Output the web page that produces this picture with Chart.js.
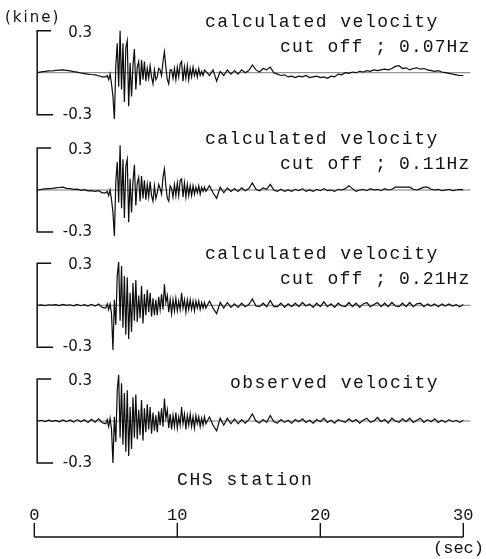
<!DOCTYPE html>
<html>
<head>
<meta charset="utf-8">
<script src="https://cdn.jsdelivr.net/npm/chart.js@4.4.1/dist/chart.umd.min.js"></script>
<style>
  html, body { margin: 0; background: #fff; }
  canvas { display: block; }
</style>
</head>
<body>
<canvas id="myChart" width="486" height="559"></canvas>
<script>
// time (sec) - coarse before the onset, 0.1 s through the strong part, coarse in the coda
const timeSec = [
  0.2, 0.5, 0.75, 1.0, 1.25, 1.5, 1.75, 2.0, 2.25, 2.5, 2.75, 3.0, 3.25, 3.5, 3.75, 4.0, 4.25, 4.5, 4.75,
  5.0, 5.1, 5.2, 5.3, 5.4, 5.5, 5.6, 5.7, 5.8, 5.9,
  6.0, 6.1, 6.2, 6.3, 6.4, 6.5, 6.6, 6.7, 6.8, 6.9,
  7.0, 7.1, 7.2, 7.3, 7.4, 7.5, 7.6, 7.7, 7.8, 7.9,
  8.0, 8.1, 8.2, 8.3, 8.4, 8.5, 8.6, 8.7, 8.8, 8.9,
  9.0, 9.1, 9.2, 9.3, 9.4, 9.5, 9.6, 9.7, 9.8, 9.9,
  10.0, 10.1, 10.2, 10.3, 10.4, 10.5, 10.6, 10.7, 10.8, 10.9,
  11.0, 11.1, 11.2, 11.3, 11.4, 11.5, 11.6, 11.7, 11.8, 11.9,
  12.0, 12.25, 12.5, 12.75, 13.0, 13.25, 13.5, 13.75,
  14.0, 14.25, 14.5, 14.75, 15.0, 15.25, 15.5, 15.75,
  16.0, 16.25, 16.5, 16.75, 17.0, 17.25, 17.5, 17.75,
  18.0, 18.25, 18.5, 18.75, 19.0, 19.25, 19.5, 19.75,
  20.0, 20.25, 20.5, 20.75, 21.0, 21.25, 21.5, 21.75,
  22.0, 22.25, 22.5, 22.75, 23.0, 23.25, 23.5, 23.75,
  24.0, 24.25, 24.5, 24.75, 25.0, 25.25, 25.5, 25.75,
  26.0, 26.25, 26.5, 26.75, 27.0, 27.25, 27.5, 27.75,
  28.0, 28.25, 28.5, 28.75, 29.0, 29.25, 29.5, 29.75,
  30.0, 30.25, 30.5
];

// velocity (kine)
const velCut007 = [
  0, 0.006, 0.009, 0.013, 0.012, 0.016, 0.018, 0.02, 0.017, 0.013, 0.008, 0.004, -0.002, -0.006, -0.01, -0.013, -0.015, -0.022, -0.03,
  -0.03, -0.02, -0.05, -0.01, -0.08, -0.17, -0.33, 0.05, 0.21, -0.10,
  0.30, -0.12, 0.21, -0.21, 0.18, 0.23, -0.24, 0.07, -0.17, 0.05,
  0.17, -0.12, 0.04, 0.08, -0.09, 0.09, -0.05, 0.08, -0.06, 0.03,
  -0.04, 0.05, -0.03, -0.08, 0.02, -0.05, -0.03, 0.03, 0.02, -0.02,
  0.08, 0.15, 0.04, -0.05, -0.08, 0.02, 0.02, -0.04, 0.03, -0.05,
  0.04, -0.03, 0.06, 0.08, -0.06, 0.04, -0.04, 0.05, -0.05, 0.03,
  -0.03, 0.04, -0.02, 0.02, -0.03, 0.03, -0.02, 0.01, -0.02, 0.02,
  0.01, -0.02, 0.02, -0.06, 0.01, -0.02, 0.02, -0.01,
  0.015, -0.01, 0.02, 0.0, 0.015, 0.055, 0.02, 0.005,
  0.03, 0.02, 0.04, 0.0, -0.01, -0.02, -0.015, -0.03,
  -0.025, -0.035, -0.025, -0.03, -0.02, -0.035, -0.03, -0.025,
  -0.035, -0.03, -0.04, -0.025, -0.03, -0.01, -0.015, 0.0,
  -0.005, 0.005, 0.0, 0.01, 0.005, 0.015, 0.01, 0.02,
  0.015, 0.02, 0.025, 0.02, 0.03, 0.045, 0.05, 0.03,
  0.035, 0.02, 0.03, 0.035, 0.025, 0.03, 0.02, 0.015,
  0.01, 0.015, 0.005, 0.0, -0.005, -0.01, -0.015, -0.02,
  -0.02, -0.025, -0.03
];

const velCut011 = [
  0, 0.004, 0.008, 0.01, 0.012, 0.015, 0.018, 0.02, 0.012, 0.01, 0.004, 0.006, -0.003, 0.002, -0.006, -0.004, -0.01, -0.005, -0.02,
  -0.02, -0.01, -0.04, 0.0, -0.07, -0.16, -0.33, 0.06, 0.20, -0.09,
  0.32, -0.13, 0.22, -0.20, 0.17, 0.22, -0.23, 0.08, -0.16, 0.06,
  0.18, -0.11, 0.05, 0.09, -0.08, 0.10, -0.06, 0.07, -0.07, 0.04,
  -0.05, 0.06, -0.04, -0.08, 0.03, -0.06, -0.02, 0.04, 0.01, -0.03,
  0.09, 0.15, 0.03, -0.06, -0.08, 0.03, 0.01, -0.05, 0.04, -0.04,
  0.05, -0.04, 0.07, 0.08, -0.05, 0.05, -0.05, 0.04, -0.04, 0.03,
  -0.04, 0.03, -0.03, 0.02, -0.02, 0.03, -0.03, 0.02, -0.01, 0.02,
  -0.01, 0.03, -0.02, -0.06, 0.02, -0.02, 0.015, -0.01,
  0.01, -0.01, 0.015, -0.005, 0.01, 0.05, 0.005, -0.005,
  0.015, 0.005, 0.04, 0.0, -0.01, 0.005, -0.01, 0.0,
  -0.01, 0.005, -0.005, 0.01, -0.01, 0.0, -0.01, 0.005,
  -0.005, 0.01, -0.005, 0.0, -0.01, 0.005, 0.0, 0.01,
  0.03, 0.01, -0.01, 0.0, 0.005, -0.005, 0.01, 0.0,
  0.005, -0.005, 0.01, 0.0, 0.005, 0.02, 0.02, 0.02,
  0.02, 0.02, 0.005, 0.0, 0.01, 0.02, 0.02, 0.005,
  0.0, 0.005, -0.005, 0.0, 0.005, -0.005, 0.0, 0.005,
  0.0, -0.005, 0.0
];

const velCut021 = [
  0, 0.003, -0.002, 0.004, 0.001, 0.005, -0.002, 0.006, 0.0, 0.004, -0.004, 0.006, -0.003, 0.005, -0.006, 0.007, -0.006, 0.01, -0.015,
  -0.02, 0.01, -0.03, 0.01, -0.06, -0.32, 0.04, -0.14, 0.21, 0.31,
  -0.11, 0.28, -0.16, 0.21, -0.21, 0.20, -0.24, 0.09, -0.19, 0.16,
  -0.11, 0.18, -0.12, 0.07, -0.09, 0.14, -0.13, 0.08, -0.07, 0.11,
  -0.05, 0.09, -0.08, 0.05, -0.07, 0.04, -0.07, 0.06, -0.03, 0.08,
  -0.03, 0.15, 0.02, 0.07, -0.05, 0.04, -0.06, 0.04, -0.04, 0.05,
  -0.04, 0.03, -0.03, 0.09, -0.02, 0.04, -0.05, 0.04, -0.03, 0.04,
  -0.03, 0.03, -0.04, 0.03, -0.02, 0.03, -0.03, 0.02, -0.02, 0.02,
  -0.02, 0.03, -0.02, -0.06, 0.02, -0.02, 0.02, -0.015,
  0.01, -0.015, 0.015, -0.01, 0.005, 0.045, -0.005, -0.01,
  0.015, -0.01, 0.035, -0.01, -0.01, 0.015, -0.015, 0.01,
  -0.01, 0.015, -0.01, 0.02, -0.005, 0.01, -0.015, 0.015,
  -0.01, 0.025, -0.01, 0.01, -0.015, 0.015, -0.005, -0.01,
  0.02, -0.01, 0.015, -0.015, 0.01, 0.02, -0.01, 0.005,
  0.02, -0.01, 0.015, -0.01, 0.02, -0.005, -0.01, 0.015,
  -0.01, 0.02, -0.01, 0.01, 0.015, -0.01, 0.01, -0.005,
  0.01, -0.01, 0.01, -0.005, 0.01, -0.005, 0.005, -0.01,
  0.005, 0.0, -0.005
];

const velObserved = [
  0, 0.005, -0.004, 0.006, -0.003, 0.004, -0.006, 0.008, -0.005, 0.007, -0.008, 0.01, -0.006, 0.009, -0.01, 0.012, -0.008, 0.015, -0.012,
  -0.02, 0.01, -0.04, 0.02, -0.06, -0.30, 0.03, -0.15, 0.22, 0.33,
  -0.12, 0.27, -0.17, 0.20, -0.22, 0.22, -0.25, 0.10, -0.20, 0.17,
  -0.12, 0.19, -0.13, 0.08, -0.10, 0.15, -0.14, 0.09, -0.08, 0.12,
  -0.06, 0.10, -0.09, 0.06, -0.07, 0.04, -0.08, 0.07, -0.03, 0.09,
  -0.04, 0.16, 0.02, 0.08, -0.05, 0.05, -0.06, 0.04, -0.04, 0.06,
  -0.05, 0.03, -0.03, 0.10, -0.02, 0.05, -0.06, 0.04, -0.03, 0.05,
  -0.04, 0.03, -0.05, 0.04, -0.02, 0.03, -0.04, 0.02, -0.03, 0.03,
  -0.02, 0.03, -0.03, -0.07, 0.02, -0.03, 0.02, -0.02,
  0.015, -0.02, 0.01, -0.015, 0.01, 0.05, 0.0, -0.015,
  0.01, -0.01, 0.04, -0.005, -0.015, 0.01, -0.01, 0.005,
  -0.015, 0.01, -0.005, 0.015, -0.01, 0.005, -0.015, 0.01,
  -0.005, 0.02, -0.01, 0.005, -0.015, 0.01, 0.0, -0.01,
  0.015, -0.005, 0.01, -0.015, 0.005, 0.02, -0.01, 0.0,
  0.025, -0.005, 0.01, -0.015, 0.02, 0.0, -0.01, 0.015,
  -0.005, 0.02, -0.01, 0.005, 0.02, -0.01, 0.01, -0.005,
  0.015, -0.01, 0.005, -0.01, 0.01, -0.005, 0.005, -0.01,
  0.005, 0.0, -0.005
];

const panelSeries = [velCut007, velCut011, velCut021, velObserved];
const panelTitles = ['calculated velocity', 'calculated velocity', 'calculated velocity', 'observed velocity'];
const panelCutoffs = ['cut off ; 0.07Hz', 'cut off ; 0.11Hz', 'cut off ; 0.21Hz', ''];
const ampTicks = [0.3, -0.3];
const ampTickLabels = ['0.3', '-0.3'];
const timeTicks = [0, 10, 20, 30];
const stationName = 'CHS station';

// layout (pixels)
const H = 559;
const pxPerKine = 140;
const baselinePx = [72.7, 190, 305.3, 421];
const titleOffset = [-46, -46, -46, -33];
const titleLeft = [205, 205, 205, 230];
const mono = '"Liberation Mono", "DejaVu Sans Mono", monospace';
const sans = '"DejaVu Sans", "Liberation Sans", sans-serif';

function panelAxis(i) {
    return {
        type: 'linear',
        axis: 'y',
        display: false,
        min: -(H - baselinePx[i]) / pxPerKine,
        max: baselinePx[i] / pxPerKine
    };
}

const decor = {
    id: 'decor',
    beforeDatasetsDraw(chart) {
        const ctx = chart.ctx;
        const xs = chart.scales.x;
        ctx.save();
        ctx.strokeStyle = '#555';
        ctx.lineWidth = 0.8;
        for (let i = 0; i < panelSeries.length; i++) {
            const y = chart.scales['y' + i].getPixelForValue(0);
            ctx.beginPath();
            ctx.moveTo(xs.getPixelForValue(0.2), y);
            ctx.lineTo(xs.getPixelForValue(30.5), y);
            ctx.stroke();
        }
        ctx.restore();
    },
    afterDraw(chart) {
        const ctx = chart.ctx;
        const xs = chart.scales.x;
        ctx.save();
        ctx.fillStyle = '#111';
        ctx.strokeStyle = '#111';

        // (kine)
        ctx.font = '15px ' + sans;
        ctx.letterSpacing = '2px';
        ctx.textBaseline = 'middle';
        ctx.textAlign = 'left';
        ctx.fillText('(kine)', 5, 18);

        for (let i = 0; i < panelSeries.length; i++) {
            const ys = chart.scales['y' + i];
            const x0 = xs.getPixelForValue(0.2);
            const yTop = ys.getPixelForValue(ampTicks[0]);
            const yBot = ys.getPixelForValue(ampTicks[1]);
            const y0 = ys.getPixelForValue(0);

            // scale bracket
            ctx.lineWidth = 1.5;
            ctx.beginPath();
            ctx.moveTo(x0 + 14, yTop);
            ctx.lineTo(x0, yTop);
            ctx.lineTo(x0, yBot);
            ctx.lineTo(x0 + 16, yBot);
            ctx.stroke();

            ctx.font = '15px ' + sans;
            ctx.letterSpacing = '0px';
            ctx.textAlign = 'right';
            ctx.textBaseline = 'middle';
            ctx.fillText(ampTickLabels[0], 92, yTop + 2);
            ctx.fillText(ampTickLabels[1], 92, yBot);

            // titles
            ctx.font = '18px ' + mono;
            ctx.letterSpacing = '1.5px';
            ctx.textAlign = 'left';
            ctx.textBaseline = 'alphabetic';
            ctx.fillText(panelTitles[i], titleLeft[i], y0 + titleOffset[i]);
            if (panelCutoffs[i]) {
                ctx.letterSpacing = '1.1px';
                ctx.fillText(panelCutoffs[i], 280, y0 - 21);
            }
        }

        // station name
        ctx.letterSpacing = '1.6px';
        ctx.fillText(stationName, 177, 485);

        // time axis
        const axisY = 537;
        ctx.lineWidth = 1.4;
        ctx.beginPath();
        ctx.moveTo(xs.getPixelForValue(timeTicks[0]), axisY);
        ctx.lineTo(xs.getPixelForValue(timeTicks[timeTicks.length - 1]), axisY);
        ctx.stroke();
        ctx.font = '17px ' + mono;
        ctx.letterSpacing = '0px';
        ctx.textAlign = 'center';
        timeTicks.forEach(t => {
            const x = xs.getPixelForValue(t);
            ctx.beginPath();
            ctx.moveTo(x, axisY);
            ctx.lineTo(x, axisY - 14);
            ctx.stroke();
            ctx.fillText(String(t), x, 520);
        });
        ctx.textAlign = 'right';
        ctx.fillText('(sec)', 484, 553);
        ctx.restore();
    }
};

const scales = {
    x: { type: 'linear', min: 0, max: 30, display: false }
};
panelSeries.forEach((s, i) => { scales['y' + i] = panelAxis(i); });

var ctx = document.getElementById('myChart').getContext('2d');
var chart = new Chart(ctx, {
    type: 'line',
    data: {
        datasets: panelSeries.map((vals, i) => ({
            label: panelTitles[i] + ' ' + panelCutoffs[i],
            data: timeSec.map((t, j) => ({ x: t, y: vals[j] })),
            yAxisID: 'y' + i,
            borderColor: '#0c0c0c',
            borderWidth: 1.2,
            pointRadius: 0,
            tension: 0,
            clip: false
        }))
    },
    options: {
        responsive: false,
        animation: false,
        layout: { padding: { left: 34.3, right: 22.7, top: 0, bottom: 0 } },
        plugins: { legend: { display: false }, tooltip: { enabled: false } },
        scales: scales
    },
    plugins: [decor]
});
</script>
</body>
</html>
